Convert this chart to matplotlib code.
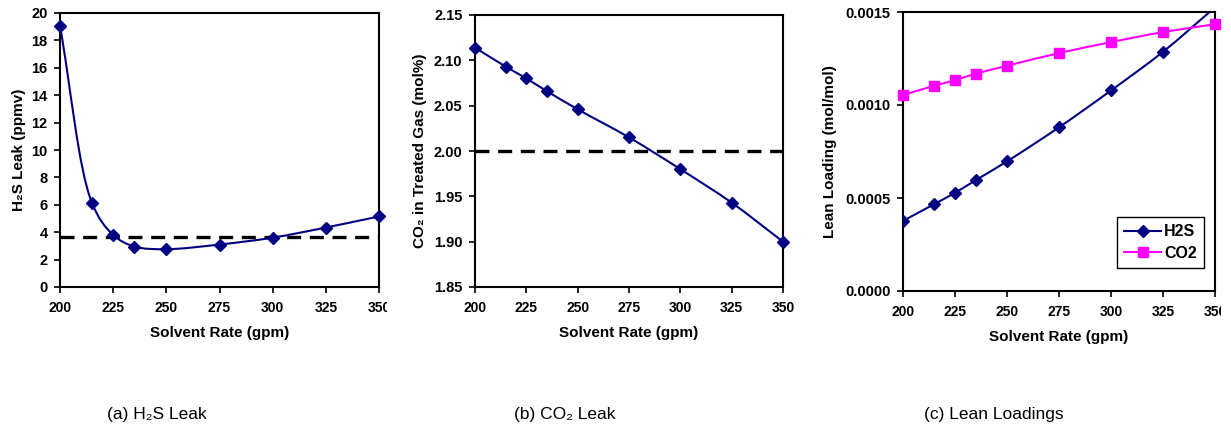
import numpy as np
import matplotlib
matplotlib.use("Agg")
import matplotlib.pyplot as plt
from matplotlib.path import Path
from matplotlib.patches import PathPatch
from matplotlib.transforms import Bbox, TransformedBbox

plt.rcParams['font.family'] = ['Liberation Sans', 'DejaVu Sans']

# data
rate = [200, 215, 225, 235, 250, 275, 300, 325, 350]
h2s_leak = [19.05, 6.15, 3.8, 2.95, 2.76, 3.1, 3.6, 4.34, 5.15]
h2s_spec = 3.64
co2_leak = [2.114, 2.093, 2.080, 2.066, 2.046, 2.015, 1.980, 1.943, 1.900]
co2_spec = 2.00
h2s_loading = [0.000377, 0.000467, 0.000528, 0.000596, 0.000697, 0.000880, 0.001078, 0.001286, 0.001525]
co2_loading = [0.001054, 0.001103, 0.001134, 0.001168, 0.001211, 0.001279, 0.001338, 0.001392, 0.001434]

NAVY = '#000080'
MAGENTA = '#FF00FF'
W, H = 1231, 430


def smooth_line(ax, x, y, color, px_w, px_h):
    # smoothed line like excel: centripetal catmull-rom, drawn as a bezier path
    xl, yl = ax.get_xlim(), ax.get_ylim()
    sx = px_w / (xl[1] - xl[0])
    sy = px_h / (yl[1] - yl[0])
    p = np.column_stack([np.asarray(x) * sx, np.asarray(y) * sy])
    pts = np.vstack([2 * p[0] - p[1], p, 2 * p[-1] - p[-2]])
    t = np.concatenate([[0], np.cumsum(np.linalg.norm(np.diff(pts, axis=0), axis=1) ** 0.5)])
    verts = [p[0]]
    codes = [Path.MOVETO]
    for i in range(1, len(pts) - 2):
        p0, p1, p2, p3 = pts[i - 1], pts[i], pts[i + 1], pts[i + 2]
        t0, t1, t2, t3 = t[i - 1], t[i], t[i + 1], t[i + 2]
        m1 = (t2 - t1) * ((p1 - p0) / (t1 - t0) - (p2 - p0) / (t2 - t0) + (p2 - p1) / (t2 - t1))
        m2 = (t2 - t1) * ((p2 - p1) / (t2 - t1) - (p3 - p1) / (t3 - t1) + (p3 - p2) / (t3 - t2))
        verts += [p1 + m1 / 3, p2 - m2 / 3, p2]
        codes += [Path.CURVE4] * 3
    verts = np.array(verts) / [sx, sy]
    patch = PathPatch(Path(verts, codes), facecolor='none', edgecolor=color,
                      lw=1.5, transform=ax.transData, zorder=3)
    ax.add_patch(patch)


def style(ax, ylabel):
    ax.set_xlim(200, 350)
    ax.set_xticks(rate[:1] + rate[2:3] + rate[4:])
    for s in ax.spines.values():
        s.set_linewidth(1.5)
        s.set_color('black')
    ax.tick_params(direction='out', length=4, width=1.2, pad=6)
    ax.tick_params(axis='x', labelsize=10)
    ax.tick_params(axis='y', labelsize=10.5, pad=5)
    for lbl in ax.get_xticklabels() + ax.get_yticklabels():
        lbl.set_fontweight('bold')
    ax.set_xlabel('Solvent Rate (gpm)', fontsize=11, fontweight='bold', labelpad=8)
    ax.set_ylabel(ylabel, fontsize=11, fontweight='bold')


fig = plt.figure(figsize=(W / 100, H / 100), dpi=100)

# (a) H2S leak
ax1 = fig.add_axes([60 / W, 1 - 287 / H, 319 / W, 274 / H])
ax1.set_ylim(0, 20)
ax1.set_yticks(range(0, 21, 2))
style(ax1, 'H\u2082S Leak (ppmv)')
smooth_line(ax1, rate, h2s_leak, NAVY, 319, 274)
ax1.plot(rate, h2s_leak, ls='none', marker='D', ms=6.5, color=NAVY, zorder=4, clip_on=False)
ax1.axhline(h2s_spec, color='black', lw=2.4, ls=(0, (4.2, 2.6)))
ax1.yaxis.labelpad = 4

# (b) CO2 leak
ax2 = fig.add_axes([475 / W, 1 - 287 / H, 308 / W, 272 / H])
ax2.set_ylim(1.85, 2.15)
ax2.set_yticks(np.arange(1.85, 2.151, 0.05))
ax2.yaxis.set_major_formatter(plt.FormatStrFormatter('%.2f'))
style(ax2, 'CO\u2082 in Treated Gas (mol%)')
smooth_line(ax2, rate, co2_leak, NAVY, 308, 272)
ax2.plot(rate, co2_leak, ls='none', marker='D', ms=6.5, color=NAVY, zorder=4, clip_on=False)
ax2.axhline(co2_spec, color='black', lw=2.4, ls=(0, (4.2, 2.6)))
ax2.yaxis.labelpad = 5

# (c) lean loadings
ax3 = fig.add_axes([903 / W, 1 - 291 / H, 312 / W, 279 / H])
ax3.set_ylim(0, 0.0015)
ax3.set_yticks([0, 0.0005, 0.0010, 0.0015])
ax3.yaxis.set_major_formatter(plt.FormatStrFormatter('%.4f'))
style(ax3, 'Lean Loading (mol/mol)')
smooth_line(ax3, rate, h2s_loading, NAVY, 312, 279)
smooth_line(ax3, rate, co2_loading, MAGENTA, 312, 279)
# markers above the plot area are hidden, as in the original
h2s_marks = np.ma.masked_greater(np.array(h2s_loading), 0.0015)
ax3.plot(rate, h2s_marks, ls='none', marker='D', ms=6.5, color=NAVY, zorder=4)
ax3.plot(rate, co2_loading, ls='none', marker='s', ms=7, color=MAGENTA, zorder=4, clip_on=False)
ax3.yaxis.labelpad = 6
h1, = ax3.plot([], [], color=NAVY, lw=1.5, marker='D', ms=6.5)
h2, = ax3.plot([], [], color=MAGENTA, lw=1.5, marker='s', ms=7)
leg = ax3.legend([h1, h2], ['H2S', 'CO2'], loc='lower right', bbox_to_anchor=(0.965, 0.083),
                 prop={'weight': 'bold', 'size': 11.5}, fancybox=False, edgecolor='black',
                 framealpha=1, handlelength=2.3, borderpad=0.45, labelspacing=0.4,
                 handletextpad=0.2, borderaxespad=0)
leg.get_frame().set_linewidth(1.0)

# captions
fig.text(157 / W, 1 - 414 / H, '(a) H\u2082S Leak', ha='center', va='center', fontsize=12.5)
fig.text(565 / W, 1 - 414 / H, '(b) CO\u2082 Leak', ha='center', va='center', fontsize=12.5)
fig.text(994 / W, 1 - 414 / H, '(c) Lean Loadings', ha='center', va='center', fontsize=12.5)

# the right-most tick label is cut at the edge of panels (a) and (c)
fig.canvas.draw()
for ax, edge in [(ax1, 387), (ax3, 1221)]:
    clip = TransformedBbox(Bbox([[0, 0], [edge / W, 1]]), fig.transFigure)
    for lbl in ax.get_xticklabels():
        lbl.set_clip_box(clip)
        lbl.set_clip_on(True)

fig.savefig('out.png', dpi=100)
